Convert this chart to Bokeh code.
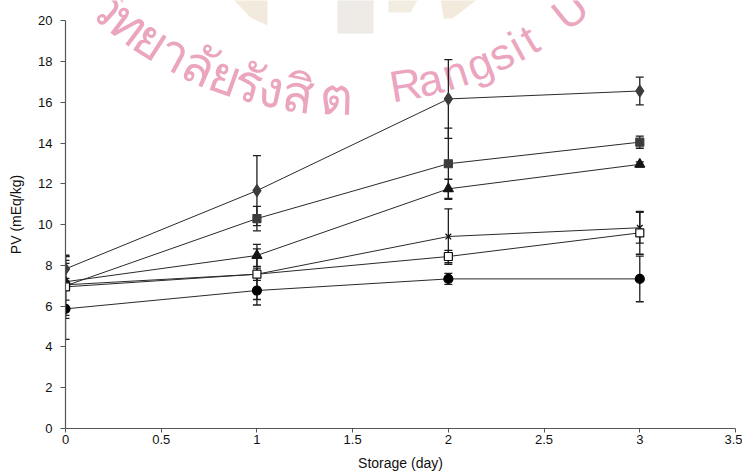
import math
from bokeh.plotting import figure
from bokeh.models import Range1d, FixedTicker, Whisker, TeeHead, ColumnDataSource
from bokeh.core.properties import value
from bokeh.embed import file_html
from bokeh.resources import INLINE

# ---------------- data ----------------
days = [0, 1, 2, 3]

diamond_vals = [7.83, 11.67, 16.17, 16.56]
diamond_err = [0.60, 1.72, 1.93, 0.68]

square_vals = [7.00, 10.30, 12.99, 14.05]
square_err = [1.45, 0.60, 1.75, 0.30]

triangle_vals = [7.20, 8.49, 11.76, 12.96]
triangle_err = [0.90, 0.54, 0.47, 0.12]

cross_vals = [7.05, 7.57, 9.42, 9.85]
cross_err = [1.20, 1.24, 1.36, 0.75]

opensq_vals = [6.95, 7.57, 8.44, 9.60]
opensq_err = [1.55, 0.30, 0.30, 1.05]

circle_vals = [5.87, 6.77, 7.34, 7.34]
circle_err = [1.50, 0.71, 0.27, 1.12]

x_ticks = [0, 0.5, 1, 1.5, 2, 2.5, 3, 3.5]
x_tick_labels = ["0", "0.5", "1", "1.5", "2", "2.5", "3", "3.5"]
y_ticks = [0, 2, 4, 6, 8, 10, 12, 14, 16, 18, 20]

x_title = "Storage (day)"
y_title = "PV (mEq/kg)"

# watermark (decoration) - only the part that shows on the page
wm_thai = ["วิ", "ท", "ย", "า", "ลั", "ย", "รั", "ง", "สิ", "ต"]
wm_thai_deg = [-41.5, -37, -32.6, -28.4, -24.0, -19.6, -15.7, -12.0, -7.6, -1.6]
wm_eng = ["R", "a", "n", "g", "s", "i", "t", "U"]
wm_eng_deg = [9.6, 13.6, 17.8, 22.0, 25.8, 28.6, 31.0, 39.0]

# ---------------- figure ----------------
FONT = "Liberation Sans"
W, H = 742, 475
FL, FR, FB = 65, 735, 428           # frame left / right / bottom in page pixels
Y_END = 21.0
p = figure(width=W, height=H,
           x_range=Range1d(0, 3.5), y_range=Range1d(0, Y_END),
           output_backend="svg", toolbar_location=None,
           min_border_left=FL, min_border_right=W - FR,
           min_border_top=0, min_border_bottom=H - FB)
p.outline_line_color = None
p.grid.visible = False
p.background_fill_color = "white"

# helpers for decorative placement (page pixel -> data)
def px2x(px):
    return (px - FL) / (FR - FL) * 3.5
def py2y(py):
    return (FB - py) / FB * Y_END

# faint logo shapes
logo_shapes = [
    ([232, 267, 267, 250], [-2, -2, 25, 17], "#f2eadd"),
    ([337, 373, 373, 337], [-2, -2, 33, 33], "#eeeae5"),
    ([388, 418, 410, 388], [-2, -2, 12, 12], "#f3ece1"),
    ([440, 478, 452, 443], [-2, -2, 18, 18], "#f2eadd"),
]
for xs, ys, col in logo_shapes:
    p.patch([px2x(v) for v in xs], [py2y(v) for v in ys], fill_color=col,
            line_color=None, level="underlay")

# arc watermark text
CX, CY, R = 346.0, -266.0, 359.0
def arc_src(chars, degs, r):
    xs, ys, angs = [], [], []
    for d in degs:
        phi = math.radians(d)
        xs.append(px2x(CX + r * math.sin(phi)))
        ys.append(py2y(CY + r * math.cos(phi)))
        angs.append(phi)
    return ColumnDataSource(dict(x=xs, y=ys, t=chars, a=angs))

p.text(x="x", y="y", text="t", angle="a", source=arc_src(wm_thai, wm_thai_deg, R + 1),
       text_font=value("Noto Sans"), text_font_size="52px",
       text_color="#eca5bf", text_align="center", text_baseline="middle",
       level="underlay")
p.text(x="x", y="y", text="t", angle="a", source=arc_src(wm_eng, wm_eng_deg, R - 4),
       text_font=value("Liberation Sans"), text_font_size="44px",
       text_color="#eca5bf", text_align="center", text_baseline="middle",
       level="underlay")

# ---------------- series ----------------
series = [
    (diamond_vals, diamond_err, "diamond", 12, "#3c3c3c", "#3c3c3c"),
    (square_vals, square_err, "square", 8, "#3c3c3c", "#3c3c3c"),
    (triangle_vals, triangle_err, "triangle", 10, "#151515", "#151515"),
    (cross_vals, cross_err, "x", 8, None, "#111111"),
    (opensq_vals, opensq_err, "square", 8, "white", "#111111"),
    (circle_vals, circle_err, "circle", 9, "#000000", "#000000"),
]

for vals, errs, mk, sz, fill, line in series:
    src = ColumnDataSource(dict(
        x=days, y=vals,
        upper=[v + e for v, e in zip(vals, errs)],
        lower=[v - e for v, e in zip(vals, errs)],
    ))
    w = Whisker(base="x", upper="upper", lower="lower", source=src,
                line_color="#1e1e1e", line_width=1.3,
                upper_head=TeeHead(size=8, line_color="#1e1e1e", line_width=1.3),
                lower_head=TeeHead(size=8, line_color="#1e1e1e", line_width=1.3))
    p.add_layout(w)
    p.line("x", "y", source=src, line_color="#2a2a2a", line_width=1.0)
    if mk == "x":
        p.scatter("x", "y", source=src, marker="x", size=sz,
                  line_color=line, line_width=1.3)
    else:
        p.scatter("x", "y", source=src, marker=mk, size=sz,
                  fill_color=fill, line_color=line, line_width=1.2)

# ---------------- axes ----------------
for ax in (p.xaxis[0], p.yaxis[0]):
    ax.axis_line_color = "#555555"
    ax.axis_line_width = 1.2
    ax.major_tick_line_color = "#555555"
    ax.major_tick_in = 0
    ax.minor_tick_line_color = None
    ax.major_label_text_font = FONT
    ax.major_label_text_font_size = "13px"
    ax.major_label_text_color = "#111111"
    ax.axis_label_text_font = FONT
    ax.axis_label_text_font_size = "14px"
    ax.axis_label_text_font_style = "normal"
    ax.axis_label_text_color = "#111111"

xa = p.xaxis[0]
xa.ticker = FixedTicker(ticks=x_ticks)
xa.major_label_overrides = {float(t): l for t, l in zip(x_ticks, x_tick_labels)}
xa.bounds = (0, 3.5)
xa.major_tick_out = 4
xa.major_label_standoff = 2
xa.axis_label = x_title
xa.axis_label_standoff = 8

ya = p.yaxis[0]
ya.ticker = FixedTicker(ticks=y_ticks)
ya.bounds = (0, 20)
ya.major_tick_out = 5
ya.major_label_standoff = 8
ya.axis_label = y_title
ya.axis_label_standoff = 11

open("out.html", "w").write(file_html(p, INLINE))
